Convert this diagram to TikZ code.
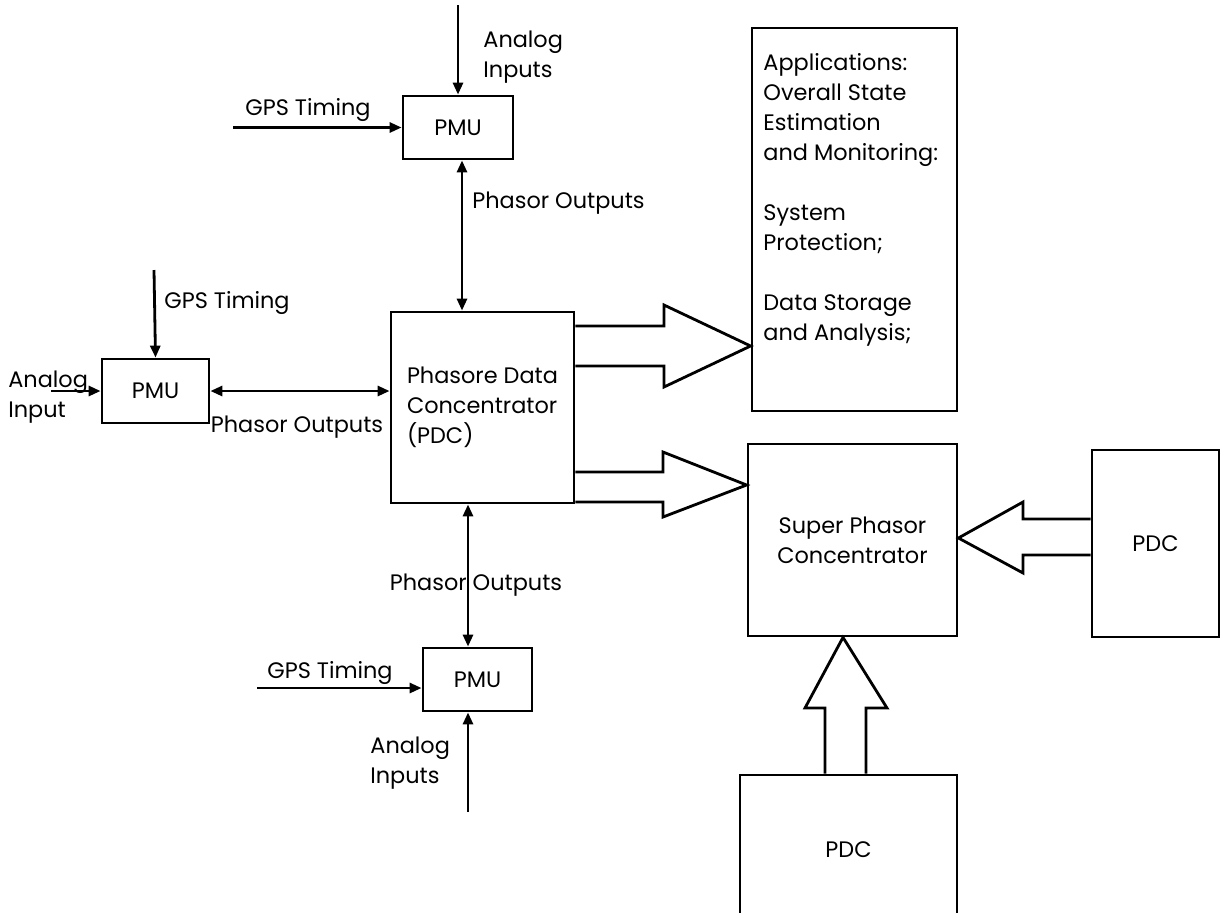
\documentclass[tikz,border=0pt]{standalone}
\usepackage{fontspec}
\setmainfont{Poppins}
\usetikzlibrary{arrows.meta}

\tikzset{
  box/.style={draw, line width=1.4pt, inner sep=0pt, align=center},
  lbl/.style={inner sep=0pt, align=left},
  sig/.style={line width=1.4pt, -{Triangle[length=6pt,width=5pt]}},
  bus/.style={line width=1.4pt, {Triangle[length=6pt,width=5pt]}-{Triangle[length=6pt,width=5pt]}},
  fat/.style={line width=1.4pt},
}

\begin{document}
\begin{tikzpicture}[x=0.5pt,y=-0.5pt,font=\fontsize{11.2}{15}\selectfont]
    \useasboundingbox (0,0) rectangle (1221,912);
    \clip (0,0) rectangle (1221,912);
    % boxes
    \node[box, minimum width=55pt, minimum height=31.5pt] (pmua) at (458,127.5) {PMU};
    \node[box, minimum width=53.5pt, minimum height=32pt] (pmub) at (155.5,391) {PMU};
    \node[box, minimum width=54.5pt, minimum height=31.5pt] (pmuc) at (477.5,679.5) {PMU};
    \node[box, minimum width=91.5pt, minimum height=95.5pt, align=left] (pdc) at (482.5,407.5) {Phasore Data\\Concentrator\\(PDC)};
    \node[box, minimum width=102.5pt, minimum height=191.5pt] (app) at (854.5,219.5) {};
    \node[lbl, anchor=north west] (apptext) at (763,53) {Applications:\\Overall State\\Estimation\\and Monitoring:\\[15pt]System\\Protection;\\[15pt]Data Storage\\and Analysis;};
    \node[box, minimum width=104.5pt, minimum height=96pt] (spc) at (852.5,540) {Super Phasor\\Concentrator};
    \node[box, minimum width=63.5pt, minimum height=93.5pt] (pdcr) at (1155.5,543.5) {PDC};
    \node[box, minimum width=108.5pt, minimum height=75pt] (pdcb) at (848.5,850) {PDC};
    \coordinate (busa) at (462,0);
    \coordinate (busc) at (468,0);
    % signals into the PMUs
    \draw[sig] (458,5) -- (pmua.north);
    \draw[sig] (233,127.5) -- (pmua.west);
    \draw[sig] (154,270) -- (pmub.north);
    \draw[sig] (51,391) -- (pmub.west);
    \draw[sig] (257,688) -- (pmuc.west |- 257,688);
    \draw[sig] (468,812) -- (pmuc.south -| busc);
    % phasor outputs
    \draw[bus] (pmua.south -| busa) -- (pdc.north -| busa);
    \draw[bus] (pmub.east) -- (pmub.east -| pdc.west);
    \draw[bus] (pdc.south -| busc) -- (pmuc.north -| busc);
    % labels
    \node[lbl, anchor=west] (anaA) at (483,57) {Analog\\Inputs};
    \node[lbl] (gpsA) at (308,110) {GPS Timing};
    \node[lbl, anchor=west] (phaA) at (472,203) {Phasor Outputs};
    \node[lbl] (gpsB) at (227,303) {GPS Timing};
    \node[lbl, anchor=west] (anaB) at (8,397) {Analog\\Input};
    \node[lbl] (phaB) at (297,427) {Phasor Outputs};
    \node[lbl] (phaC) at (476,585) {Phasor Outputs};
    \node[lbl] (gpsC) at (330,673) {GPS Timing};
    \node[lbl, anchor=west] (anaC) at (370,763) {Analog\\Inputs};
    % block arrows
    \draw[fat] (pdc.east |- 0,326) -- (664,326) -- (664,305) -- (app.west |- 0,346)
      -- (664,387) -- (664,366) -- (pdc.east |- 0,366);
    \draw[fat] (pdc.east |- 0,472) -- (663,472) -- (663,452) -- (spc.west |- 0,485)
      -- (663,517) -- (663,502) -- (pdc.east |- 0,502);
    \draw[fat] (pdcr.west |- 0,519) -- (1023,519) -- (1023,502) -- (spc.east |- 0,538)
      -- (1023,573) -- (1023,555) -- (pdcr.west |- 0,555);
    \draw[fat] (pdcb.north -| 825,0) -- (825,708) -- (805,708) -- (spc.south -| 843,0)
      -- (887,708) -- (866,708) -- (pdcb.north -| 866,0);
\end{tikzpicture}
\end{document}
